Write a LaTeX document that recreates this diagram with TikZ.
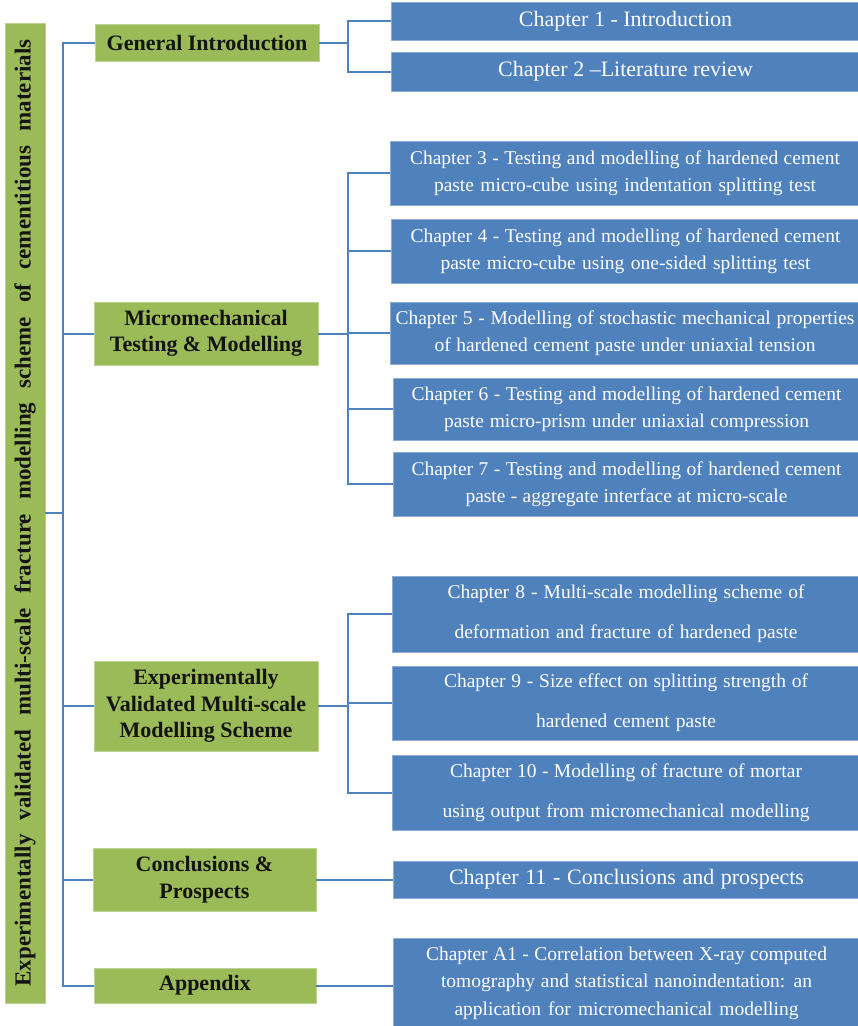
\documentclass[tikz,border=0pt]{standalone}
\usepackage{fontspec}
\setmainfont{Liberation Serif}
\definecolor{cblue}{HTML}{4F81BD}
\definecolor{cgreen}{HTML}{9BBB59}
\newcommand\jl[2]{\makebox[#1pt][s]{#2}}
\begin{document}
\begin{tikzpicture}[x=1pt,y=-1pt,
  chap/.style={fill=cblue, draw=cblue!65!white, line width=0.8pt, text=white, inner sep=0pt, align=center, font=\fontsize{19.5}{27.5}\selectfont},
  chapbig/.style={chap, font=\fontsize{22}{26}\selectfont},
  chapwide/.style={chap, font=\fontsize{19.5}{40}\selectfont},
  grp/.style={fill=cgreen, draw=cgreen!65!white, line width=0.8pt, text=black!92, inner sep=0pt, align=center, font=\bfseries\fontsize{22}{26.5}\selectfont},
  conn/.style={draw=cblue, line width=2pt}]
\useasboundingbox (0,0) rectangle (858,1026);
\fill[white] (0,0) rectangle (858,1026);

% title
\node[grp, minimum width=980pt, minimum height=40pt, rotate=90, font=\bfseries\fontsize{23}{26}\selectfont] (title) at (25,513)
  {\jl{947}{Experimentally validated multi-scale fracture modelling scheme of cementitious materials}};

% group boxes
\node[grp, minimum width=224pt, minimum height=37pt] (gi) at (207,42.5) {General Introduction};
\node[grp, minimum width=224pt, minimum height=63pt] (micro) at (206,333.5) {Micromechanical\\Testing \& Modelling};
\node[grp, minimum width=224pt, minimum height=90pt] (evms) at (206,706) {Experimentally\\Validated Multi-scale\\Modelling Scheme};
\node[grp, minimum width=223pt, minimum height=63pt] (concl) at (204.5,879.5) {Conclusions \&\\Prospects};
\node[grp, minimum width=222pt, minimum height=35pt] (app) at (205,985.5) {Appendix};

% chapter boxes
\node[chapbig, minimum width=469pt, minimum height=38pt] (c1) at (625.5,21) {Chapter 1 - Introduction};
\node[chapbig, minimum width=469pt, minimum height=39pt] (c2) at (625.5,71.5) {Chapter 2 –Literature review};
\node[chap, minimum width=470pt, minimum height=64pt] (c3) at (625,173)
  {\jl{430}{Chapter 3 - Testing and modelling of hardened cement}\\\jl{382}{paste micro-cube using indentation splitting test}};
\node[chap, minimum width=469pt, minimum height=64pt] (c4) at (625.5,251)
  {\jl{430}{Chapter 4 - Testing and modelling of hardened cement}\\\jl{370}{paste micro-cube using one-sided splitting test}};
\node[chap, minimum width=470pt, minimum height=62pt] (c5) at (625,333)
  {\jl{459}{Chapter 5 - Modelling of stochastic mechanical properties}\\\jl{381}{of hardened cement paste under uniaxial tension}};
\node[chap, minimum width=467pt, minimum height=62pt] (c6) at (626.5,409)
  {\jl{430}{Chapter 6 - Testing and modelling of hardened cement}\\\jl{365}{paste micro-prism under uniaxial compression}};
\node[chap, minimum width=467pt, minimum height=64pt] (c7) at (626.5,484)
  {\jl{430}{Chapter 7 - Testing and modelling of hardened cement}\\\jl{322}{paste - aggregate interface at micro-scale}};
\node[chapwide, minimum width=468pt, minimum height=76pt] (c8) at (626,614)
  {\jl{357}{Chapter 8 - Multi-scale modelling scheme of}\\\jl{343}{deformation and fracture of hardened paste}};
\node[chapwide, minimum width=468pt, minimum height=74pt] (c9) at (626,703)
  {\jl{364}{Chapter 9 - Size effect on splitting strength of}\\\jl{180}{hardened cement paste}};
\node[chapwide, minimum width=468pt, minimum height=75pt] (c10) at (626,792.5)
  {\jl{352}{Chapter 10 - Modelling of fracture of mortar}\\\jl{367}{using output from micromechanical modelling}};
\node[chapbig, minimum width=467pt, minimum height=37pt] (c11) at (626.5,879.5) {\jl{355}{Chapter 11 - Conclusions and prospects}};
\node[chap, minimum width=467pt, minimum height=90pt] (a1) at (626.5,983)
  {\jl{401}{Chapter A1 - Correlation between X-ray computed}\\\jl{371}{tomography and statistical nanoindentation: an}\\\jl{344}{application for micromechanical modelling}};

% connector coordinates
\coordinate (spine) at (63,0);
\coordinate (br) at (348,0);

% main spine
\draw[conn] (gi.west) -| (app.west -| spine) -- (app.west);
\draw[conn] (title.south) -- (title.south -| spine);
\draw[conn] (micro.west) -- (micro.west -| spine);
\draw[conn] (evms.west) -- (evms.west -| spine);
\draw[conn] (concl.west) -- (concl.west -| spine);

% general introduction
\draw[conn] (gi.east) -- (gi.east -| br);
\draw[conn] (c1.west) -| (c2.west -| br) -- (c2.west);

% micromechanical
\draw[conn] (micro.east) -- (micro.east -| br);
\draw[conn] (c3.west) -| (c7.west -| br) -- (c7.west);
\draw[conn] (c4.west) -- (c4.west -| br);
\draw[conn] (c5.west) -- (c5.west -| br);
\draw[conn] (c6.west) -- (c6.west -| br);

% multi-scale
\draw[conn] (evms.east) -- (evms.east -| br);
\draw[conn] (c8.west) -| (c10.west -| br) -- (c10.west);
\draw[conn] (c9.west) -- (c9.west -| br);

% conclusions and appendix
\draw[conn] (concl.east) -- (c11.west);
\draw[conn] (app.east) -- (app.east -| a1.west);
\end{tikzpicture}
\end{document}
